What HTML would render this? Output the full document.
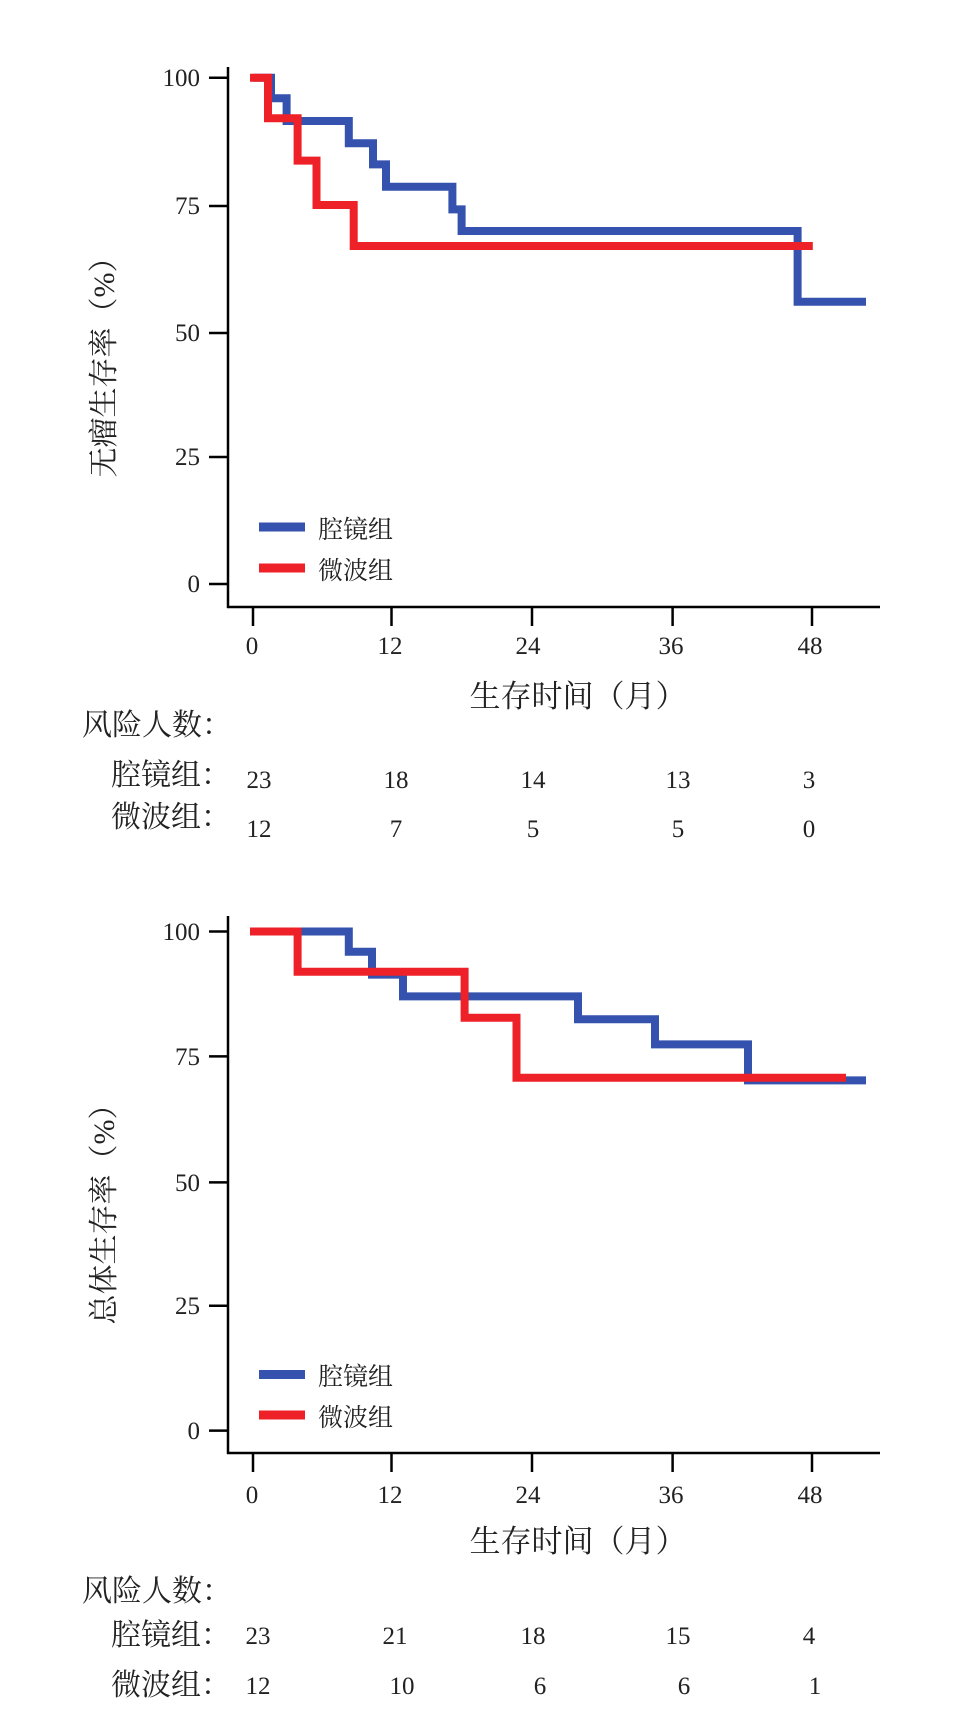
<!DOCTYPE html>
<html><head><meta charset="utf-8"><style>
html,body{margin:0;padding:0;background:#fff;}
svg{display:block;}
text{font-family:"Liberation Serif","Noto Serif CJK SC","Noto Sans CJK SC",serif;fill:#222;}
</style></head><body>
<svg width="954" height="1715" viewBox="0 0 954 1715" xmlns="http://www.w3.org/2000/svg">
<!-- ===== TOP CHART ===== -->
<g stroke="#000" stroke-width="2.5" fill="none">
<line x1="228" y1="67" x2="228" y2="608"/>
<line x1="227" y1="607" x2="880" y2="607"/>
<line x1="209" y1="77.8" x2="228" y2="77.8"/>
<line x1="209" y1="206" x2="228" y2="206"/>
<line x1="209" y1="333" x2="228" y2="333"/>
<line x1="209" y1="457" x2="228" y2="457"/>
<line x1="209" y1="584" x2="228" y2="584"/>
<line x1="253" y1="607" x2="253" y2="626"/>
<line x1="391.5" y1="607" x2="391.5" y2="626"/>
<line x1="532" y1="607" x2="532" y2="626"/>
<line x1="672.6" y1="607" x2="672.6" y2="626"/>
<line x1="812" y1="607" x2="812" y2="626"/>
</g>
<g font-size="25" text-anchor="end">
<text x="200" y="86">100</text><text x="200" y="214">75</text><text x="200" y="341">50</text><text x="200" y="465">25</text><text x="200" y="592">0</text>
</g>
<g font-size="25" text-anchor="middle">
<text x="252" y="654">0</text><text x="390" y="654">12</text><text x="528" y="654">24</text><text x="671" y="654">36</text><text x="810" y="654">48</text>
</g>
<text x="578" y="707" font-size="31" text-anchor="middle">生存时间（月）</text>
<text transform="translate(114,360) rotate(-90)" font-size="30" text-anchor="middle">无瘤生存率（%）</text>
<polyline fill="none" stroke="#3452ae" stroke-width="8" points="253,77.8 271,77.8 271,98.3 286.6,98.3 286.6,121 348.8,121 348.8,143.3 373,143.3 373,164.4 386,164.4 386,186.7 452.4,186.7 452.4,209.4 461.6,209.4 461.6,231 797.6,231 797.6,301.7 866,301.7"/>
<polyline fill="none" stroke="#ee2128" stroke-width="8" points="250,77.8 268,77.8 268,118.3 297.6,118.3 297.6,160.6 316.5,160.6 316.5,205 353.7,205 353.7,246 812.8,246"/>
<line x1="259" y1="527" x2="305" y2="527" stroke="#3452ae" stroke-width="9"/>
<line x1="259" y1="568" x2="305" y2="568" stroke="#ee2128" stroke-width="9"/>
<text x="318" y="538" font-size="25">腔镜组</text>
<text x="318" y="579" font-size="25">微波组</text>
<text x="82" y="735" font-size="30">风险人数：</text>
<text x="111" y="785" font-size="30">腔镜组：</text>
<text x="111" y="827" font-size="30">微波组：</text>
<g font-size="25" text-anchor="middle">
<text x="259" y="788">23</text><text x="396" y="788">18</text><text x="533" y="788">14</text><text x="678" y="788">13</text><text x="809" y="788">3</text>
<text x="259" y="837">12</text><text x="396" y="837">7</text><text x="533" y="837">5</text><text x="678" y="837">5</text><text x="809" y="837">0</text>
</g>
<!-- ===== BOTTOM CHART ===== -->
<g stroke="#000" stroke-width="2.5" fill="none">
<line x1="228" y1="916" x2="228" y2="1454"/>
<line x1="227" y1="1453" x2="880" y2="1453"/>
<line x1="209" y1="931.5" x2="228" y2="931.5"/>
<line x1="209" y1="1056.4" x2="228" y2="1056.4"/>
<line x1="209" y1="1182.4" x2="228" y2="1182.4"/>
<line x1="209" y1="1305.7" x2="228" y2="1305.7"/>
<line x1="209" y1="1430.6" x2="228" y2="1430.6"/>
<line x1="253" y1="1453" x2="253" y2="1472"/>
<line x1="391.5" y1="1453" x2="391.5" y2="1472"/>
<line x1="532" y1="1453" x2="532" y2="1472"/>
<line x1="672.6" y1="1453" x2="672.6" y2="1472"/>
<line x1="812" y1="1453" x2="812" y2="1472"/>
</g>
<g font-size="25" text-anchor="end">
<text x="200" y="940">100</text><text x="200" y="1065">75</text><text x="200" y="1191">50</text><text x="200" y="1314">25</text><text x="200" y="1439">0</text>
</g>
<g font-size="25" text-anchor="middle">
<text x="252" y="1503">0</text><text x="390" y="1503">12</text><text x="528" y="1503">24</text><text x="671" y="1503">36</text><text x="810" y="1503">48</text>
</g>
<text x="578" y="1552" font-size="31" text-anchor="middle">生存时间（月）</text>
<text transform="translate(114,1207) rotate(-90)" font-size="30" text-anchor="middle">总体生存率（%）</text>
<polyline fill="none" stroke="#3452ae" stroke-width="8" points="250,931.5 348.8,931.5 348.8,951.7 372,951.7 372,974.6 403,974.6 403,996.4 578,996.4 578,1019.3 655,1019.3 655,1044.4 748,1044.4 748,1080.4 866,1080.4"/>
<polyline fill="none" stroke="#ee2128" stroke-width="8" points="250,931.5 297.6,931.5 297.6,971.8 464.6,971.8 464.6,1017.7 516.5,1017.7 516.5,1077.7 846,1077.7"/>
<line x1="259" y1="1374.5" x2="305" y2="1374.5" stroke="#3452ae" stroke-width="9"/>
<line x1="259" y1="1415" x2="305" y2="1415" stroke="#ee2128" stroke-width="9"/>
<text x="318" y="1385" font-size="25">腔镜组</text>
<text x="318" y="1426" font-size="25">微波组</text>
<text x="82" y="1601" font-size="30">风险人数：</text>
<text x="111" y="1645" font-size="30">腔镜组：</text>
<text x="111" y="1695" font-size="30">微波组：</text>
<g font-size="25" text-anchor="middle">
<text x="258" y="1644">23</text><text x="395" y="1644">21</text><text x="533" y="1644">18</text><text x="678" y="1644">15</text><text x="809" y="1644">4</text>
<text x="258" y="1694">12</text><text x="402" y="1694">10</text><text x="540" y="1694">6</text><text x="684" y="1694">6</text><text x="815" y="1694">1</text>
</g>
</svg>
</body></html>
